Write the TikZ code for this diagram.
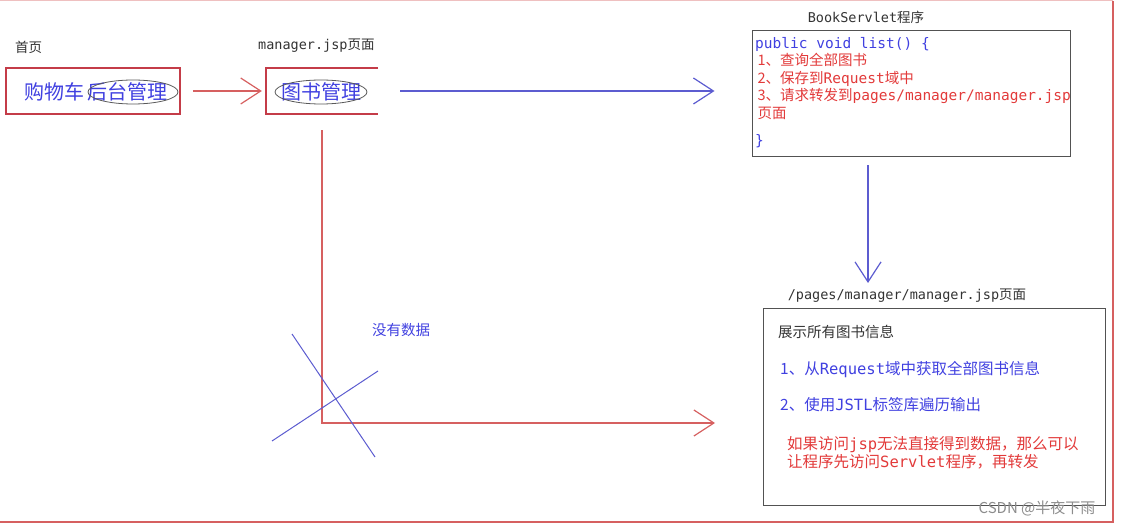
\documentclass[tikz,border=0pt]{standalone}
\usepackage{fontspec}
\setmainfont{Noto Sans CJK SC}
\newfontfamily\mono{DejaVu Sans Mono}
\usetikzlibrary{arrows.meta,positioning}
\definecolor{boxred}{RGB}{196,60,72}
\definecolor{linered}{RGB}{214,96,96}
\definecolor{textred}{RGB}{226,58,58}
\definecolor{textblue}{RGB}{64,64,224}
\definecolor{lineblue}{RGB}{92,92,208}
\definecolor{boxgrey}{RGB}{82,82,82}

\begin{document}
\begin{tikzpicture}[x=1pt,y=-1pt,
    redbox/.style={draw=boxred,line width=1.5pt,inner sep=0pt},
    greybox/.style={draw=boxgrey,line width=1pt,inner sep=0pt},
    caption/.style={font=\fontsize{13.5}{15}\selectfont,text=black!80,inner sep=0pt},
    bigtext/.style={font=\fontsize{20}{24}\selectfont,text=textblue,inner sep=0pt},
    body/.style={font=\fontsize{14.5}{18}\selectfont,inner sep=0pt,align=left},
    oval/.style={draw=black!65,line width=0.8pt},
    vhead/.style={-{Straight Barb[length=20pt,width=26pt,line width=1.2pt]},line width=1.2pt}]
    \useasboundingbox (0,0) rectangle (1123,526);
    % outer frame
    \draw[linered!40,line width=1pt] (0,1) -- (1113,1);
    \draw[linered,line width=1.6pt] (1113,1) -- (1113,522) -- (0,522);

    % first page
    \node[caption,anchor=west] (hometitle) at (15,47) {首页};
    \node[redbox,minimum width=174pt,minimum height=46pt] (home) at (93,91) {};
    \node[bigtext,anchor=west] (cart) at (24,92) {购物车};
    \node[bigtext,right=3pt of cart] (admin) {后台管理};
    \draw[oval] (133,92) ellipse [x radius=45, y radius=12];

    % manager.jsp
    \node[caption,anchor=west] (managertitle) at (258,46) {{\mono manager.jsp}页面};
    \node[minimum width=112pt,minimum height=46pt,inner sep=0pt] (manager) at (322,91) {};
    \draw[draw=boxred,line width=1.5pt] (manager.north east) -- (manager.north west)
        -- (manager.south west) -- (manager.south east);
    \node[bigtext] (books) at (321,92) {图书管理};
    \draw[oval] (321,92) ellipse [x radius=46, y radius=12];

    % BookServlet
    \node[caption] (servlettitle) at (866,17) {{\mono BookServlet}程序};
    \node[greybox,minimum width=318pt,minimum height=126pt] (servlet) at (911,94) {};
    \node[body,anchor=north west,font=\fontsize{14.5}{17.5}\selectfont] (code) at (755,37) {%
        \textcolor{textblue}{\mono public void list() \{}\\
        \textcolor{textred}{\,1、查询全部图书}\\
        \textcolor{textred}{\,2、保存到{\mono Request}域中}\\
        \textcolor{textred}{\,3、请求转发到{\mono pages/manager/manager.jsp}}\\
        \textcolor{textred}{\,页面}\\[10pt]
        \textcolor{textblue}{\mono \}}};

    % /pages/manager/manager.jsp
    \node[caption] (pagetitle) at (907,296) {{\mono /pages/manager/manager.jsp}页面};
    \node[greybox,minimum width=342pt,minimum height=197pt] (page) at (934,406.5) {};
    \node[body,anchor=west,text=black!80] (showall) at (778,332) {展示所有图书信息};
    \node[body,anchor=west,text=textblue,font=\fontsize{15.5}{18}\selectfont] (getdata) at (780,370) {1、从{\mono Request}域中获取全部图书信息};
    \node[body,anchor=west,text=textblue,font=\fontsize{15.5}{18}\selectfont] (loop) at (780,405) {2、使用{\mono JSTL}标签库遍历输出};
    \node[body,anchor=north west,text=textred,font=\fontsize{15.5}{18}\selectfont] (hint) at (787,436)
        {如果访问{\mono jsp}无法直接得到数据，那么可以\\让程序先访问{\mono Servlet}程序，再转发};

    % connectors
    \coordinate (pagein) at (868,283);
    \coordinate (listin) at (715,423);
    \draw[linered,vhead,shorten <=12pt,shorten >=4pt] (home.east) -- (manager.west);
    \draw[lineblue,vhead,shorten <=22pt,shorten >=37pt] (manager.east) -- (manager.east -| servlet.west);
    \draw[lineblue,vhead,shorten <=8pt] (servlet.south -| pagein) -- (pagein);
    \draw[linered,vhead,line width=1.5pt,shorten <=16pt] (manager.south) |- (listin);

    % no data
    \node[body,text=textblue] (nodata) at (401,330) {没有数据};
    \draw[lineblue,line width=1pt] (292,334) -- (375,457);
    \draw[lineblue,line width=1pt] (272,441) -- (378,371);

    \node[text=black!45,font=\fontsize{15}{17}\selectfont,inner sep=0pt] (mark) at (1037,508) {CSDN @半夜下雨};
\end{tikzpicture}
\end{document}
